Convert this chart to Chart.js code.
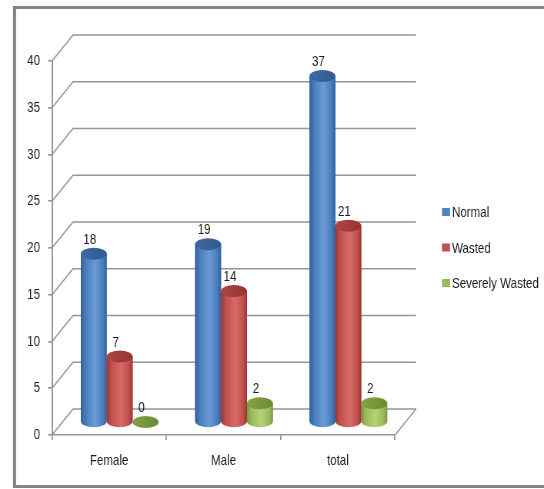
<!DOCTYPE html>
<html><head><meta charset="utf-8">
<script src="https://cdn.jsdelivr.net/npm/chart.js@4/dist/chart.umd.min.js"></script>
<style>html,body{margin:0;padding:0;background:#fff}canvas{display:block}</style>
</head><body>
<canvas id="c" width="707" height="489" style="width:544px;height:489px"></canvas>
<script>
// ---- data ----
const categories = ['Female', 'Male', 'total'];
const seriesNames = ['Normal', 'Wasted', 'Severely Wasted'];
const normal = [18, 19, 37];
const wasted = [7, 14, 21];
const severelyWasted = [0, 2, 2];
const yTickValues = [0, 5, 10, 15, 20, 25, 30, 35, 40];

// ---- style ----
// The canvas bitmap is wider than its display box, so text appears narrow (as in the source image).
const K = 707 / 544;
const FONT = "'Liberation Sans', Arial, sans-serif";
const FS = 15;
const GRID = '#959595';
const TXT = '#1a1a1a';
const DX = 21 * K, DY = 26; // depth of the 3D box
const flat = ['#4f81bd', '#c0504d', '#9bbb59'];
const shades = [
  {dark: '#33609a', base: '#4a7dbb', light: '#6b9bd6', top: '#3e6aa4', topDark: '#2f5a92'},
  {dark: '#9a3532', base: '#c0504d', light: '#d86b67', top: '#b04643', topDark: '#96332f'},
  {dark: '#7a963f', base: '#9bbb59', light: '#b6d276', top: '#85a548', topDark: '#6a8832'}
];

function drawCylinder(ctx, el, s) {
  const w = el.width, cx = el.x, x0 = cx - w / 2, x1 = cx + w / 2;
  const yTop = el.y, yBase = el.base, ry = 6;
  if (yBase - yTop > 0.5) {
    const g = ctx.createLinearGradient(x0, 0, x1, 0);
    g.addColorStop(0, s.dark); g.addColorStop(0.18, s.base);
    g.addColorStop(0.55, s.light); g.addColorStop(0.85, s.base); g.addColorStop(1, s.dark);
    ctx.beginPath();
    ctx.moveTo(x0, yTop);
    ctx.lineTo(x0, yBase);
    ctx.ellipse(cx, yBase, w / 2, ry, 0, Math.PI, 0, true);
    ctx.lineTo(x1, yTop);
    ctx.closePath();
    ctx.fillStyle = g; ctx.fill();
  }
  const gt = ctx.createLinearGradient(x0, yTop - ry, x1, yTop + ry);
  gt.addColorStop(0, s.top); gt.addColorStop(1, s.topDark);
  ctx.beginPath();
  ctx.ellipse(cx, yTop, w / 2, ry, 0, 0, Math.PI * 2);
  ctx.fillStyle = gt; ctx.fill();
}

const boxPlugin = {
  id: 'box3d',
  beforeDraw(chart) {
    const {ctx, chartArea: a, scales: {y}} = chart;
    ctx.save();
    ctx.fillStyle = '#fff'; ctx.fillRect(0, 0, chart.width, chart.height);
    ctx.strokeStyle = '#858585'; ctx.lineWidth = 3;
    ctx.strokeRect(14.5 * K, 7.5, 560 * K, 479);
    ctx.lineWidth = 3.9;
    ctx.beginPath(); ctx.moveTo(14.5 * K, 6); ctx.lineTo(14.5 * K, 488); ctx.stroke();
    ctx.strokeStyle = GRID; ctx.lineWidth = 1.6;
    y.ticks.forEach(t => {
      const py = y.getPixelForValue(t.value);
      ctx.beginPath();
      ctx.moveTo(a.left, py); ctx.lineTo(a.left + DX, py - DY); ctx.lineTo(a.right + DX, py - DY);
      ctx.stroke();
    });
    const p0 = y.getPixelForValue(0);
    ctx.beginPath(); ctx.moveTo(a.right, p0); ctx.lineTo(a.right + DX, p0 - DY); ctx.stroke();
    ctx.restore();
  },
  beforeDatasetsDraw(chart) {
    chart.ctx.save();
    chart.ctx.translate(DX / 2, -DY / 2);
  },
  afterDatasetsDraw(chart) {
    const ctx = chart.ctx;
    chart.data.datasets.forEach((ds, di) => {
      chart.getDatasetMeta(di).data.forEach(el => drawCylinder(ctx, el, shades[di]));
    });
    ctx.fillStyle = TXT;
    ctx.font = FS + 'px ' + FONT;
    ctx.textAlign = 'center'; ctx.textBaseline = 'alphabetic';
    chart.data.datasets.forEach((ds, di) => {
      chart.getDatasetMeta(di).data.forEach((el, i) => {
        ctx.fillText(String(ds.data[i]), el.x - 4 * K, el.y - 10);
      });
    });
    ctx.restore();
  },
  afterDraw(chart) {
    const ctx = chart.ctx;
    ctx.save();
    ctx.font = FS + 'px ' + FONT;
    ctx.textAlign = 'left'; ctx.textBaseline = 'middle';
    chart.data.datasets.forEach((ds, i) => {
      const cy = 212 + i * 35.5;
      ctx.fillStyle = ds.backgroundColor;
      ctx.fillRect(442 * K, cy - 4, 8 * K, 8);
      ctx.fillStyle = TXT;
      ctx.fillText(ds.label, 452 * K, cy + 1);
    });
    ctx.restore();
  }
};

new Chart(document.getElementById('c'), {
  type: 'bar',
  data: {
    labels: categories,
    datasets: [
      {label: seriesNames[0], data: normal, backgroundColor: flat[0]},
      {label: seriesNames[1], data: wasted, backgroundColor: flat[1]},
      {label: seriesNames[2], data: severelyWasted, backgroundColor: flat[2]}
    ]
  },
  options: {
    responsive: false,
    devicePixelRatio: 1,
    animation: false,
    events: [],
    categoryPercentage: 0.68,
    barPercentage: 1,
    layout: {padding: {top: 61, left: 14 * K, right: 707 - 395 * K, bottom: 0}},
    plugins: {legend: {display: false}, tooltip: {enabled: false}},
    scales: {
      x: {
        afterFit: s => { s.height = 54; },
        grid: {display: true, drawOnChartArea: false, drawTicks: true, tickLength: 5, color: GRID, lineWidth: 1.8, offset: true},
        border: {display: true, color: GRID, width: 1.6},
        ticks: {padding: 12, color: TXT, font: {family: FONT, size: FS}}
      },
      y: {
        min: 0, max: 40,
        afterFit: s => { s.width = 38 * K; },
        afterBuildTicks: s => { s.ticks = yTickValues.map(v => ({value: v})); },
        grid: {display: true, drawOnChartArea: false, drawTicks: true, tickLength: 4 * K, color: GRID, lineWidth: 1.6},
        border: {display: true, color: GRID, width: 2},
        ticks: {padding: 8 * K, color: TXT, font: {family: FONT, size: FS}}
      }
    }
  },
  plugins: [boxPlugin]
});
</script>
</body></html>
